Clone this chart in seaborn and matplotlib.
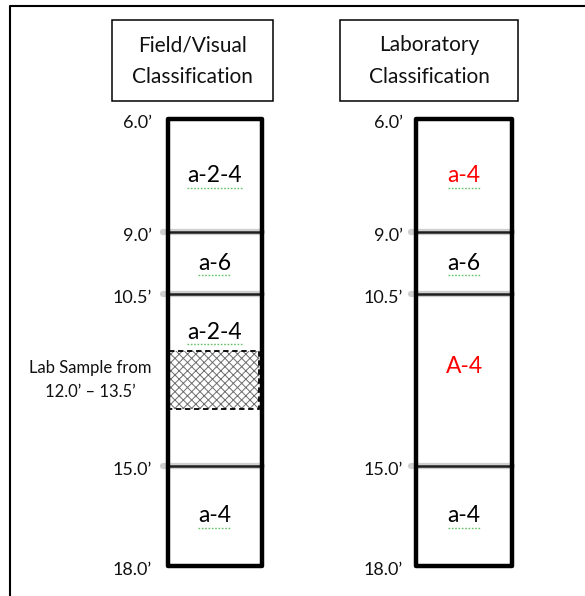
import numpy as np
import matplotlib
matplotlib.use("Agg")
import matplotlib.pyplot as plt
from matplotlib.patches import Rectangle
from matplotlib.transforms import offset_copy
import seaborn as sns

# depth boundaries of the boring log (feet)
depths = [6.0, 9.0, 10.5, 15.0, 18.0]
depth_labels = ["6.0\u2019", "9.0\u2019", "10.5\u2019", "15.0\u2019", "18.0\u2019"]

# layer classifications and depths where the label sits
field_labels = ["a-2-4", "a-6", "a-2-4", "a-4"]
field_label_depths = [7.5, 9.75, 11.5, 16.5]
field_colors = ["black", "black", "black", "black"]

lab_labels = ["a-4", "a-6", "A-4", "a-4"]
lab_label_depths = [7.5, 9.75, 12.4, 16.5]
lab_colors = ["red", "black", "red", "black"]
lab_underlined = [True, True, False, True]

sample_top, sample_bottom = 12.0, 13.5
sample_text = "Lab Sample from\n12.0\u2019 \u2013 13.5\u2019"

titles = ["Field/Visual\nClassification", "Laboratory\nClassification"]

# the sketch is not drawn to scale: rows where each boundary is drawn (px from top)
drawn_rows = [119, 232, 294, 466, 566]

W, H = 585, 596
sns.set_theme(style="white")
plt.rcParams["font.family"] = ["Lato", "DejaVu Sans"]
plt.rcParams["hatch.linewidth"] = 0.7

fig = plt.figure(figsize=(W / 100, H / 100), dpi=100)

# overlay canvas in pixel units for frame and title boxes
canvas = fig.add_axes([0, 0, 1, 1])
canvas.set_xlim(0, W)
canvas.set_ylim(H, 0)
canvas.axis("off")
canvas.plot([10, 10, W], [H, 6, 6], color="black", lw=1.5, solid_capstyle="butt")
title_boxes = [(112, 273), (340, 518)]
for (x0, x1), t in zip(title_boxes, titles):
    canvas.add_patch(Rectangle((x0, 20), x1 - x0, 81, fill=False, ec="black", lw=1.1))
    canvas.text((x0 + x1) / 2, 61, t, ha="center", va="center", fontsize=15,
                linespacing=1.75, color="#111111")

# depth axes: boundaries placed through a piecewise scale
def fwd(d):
    return np.interp(d, depths, drawn_rows)

def inv(p):
    return np.interp(p, drawn_rows, depths)

top = drawn_rows[0] / H
bot = drawn_rows[-1] / H
ax = fig.add_axes([0, 1 - bot, 1, bot - top])
ax.set_yscale("function", functions=(fwd, inv))
ax.set_xlim(0, W)
ax.set_ylim(depths[-1], depths[0])
ax.axis("off")

under = offset_copy(ax.transData, fig=fig, x=0, y=-12, units="dots")

columns = [(167.5, 261.5, field_labels, field_label_depths, field_colors,
            [True] * 4, 152),
           (416, 512, lab_labels, lab_label_depths, lab_colors, lab_underlined, 403)]

for x0, x1, labels, ldepths, colors, unders, lx in columns:
    ax.add_patch(Rectangle((x0, depths[0]), x1 - x0, depths[-1] - depths[0],
                           fc="white", ec="none", zorder=1))
    # interior boundaries with soft shadow
    for d in depths[1:-1]:
        ax.plot([x0 - 5, x1], [d, d], color="#c4c4c4", lw=4.5, zorder=2,
                solid_capstyle="round", alpha=0.8)
        ax.plot([x0, x1], [d, d], color="#1e1e1e", lw=1.8, zorder=3)
    ax.add_patch(Rectangle((x0, depths[0]), x1 - x0, depths[-1] - depths[0],
                           fill=False, ec="black", lw=3.2, zorder=5,
                           joinstyle="round", clip_on=False))
    for d, t in zip(depths, depth_labels):
        ax.annotate(t, (lx, d), xytext=(0, -3), textcoords="offset points",
                    ha="right", va="center", fontsize=13, color="#111111",
                    annotation_clip=False)
    xc = (x0 + x1) / 2
    for d, t, c, u in zip(ldepths, labels, colors, unders):
        ax.text(xc, d, t, ha="center", va="center", fontsize=16.5, color=c, zorder=6)
        if u:
            wid = 11.5 * len(t) - 2
            ax.plot([xc - wid / 2, xc + wid / 2], [d, d], transform=under,
                    color="#66c266", lw=1.0, ls=(0, (1.2, 1.2)), zorder=6)

# lab sample interval in the field column
fx0, fx1 = columns[0][0], columns[0][1]
ax.add_patch(Rectangle((fx0 + 1, sample_top), fx1 - fx0 - 4, sample_bottom - sample_top,
                       fc="white", ec="#6e6e6e", lw=0, hatch="xxxx", zorder=4))
ax.add_patch(Rectangle((fx0 + 1, sample_top), fx1 - fx0 - 4, sample_bottom - sample_top,
                       fill=False, ec="black", lw=1.3, ls=(0, (3, 2)), zorder=4))
ax.text(90, (sample_top + sample_bottom) / 2, sample_text, ha="center", va="center",
        fontsize=12, linespacing=1.6, color="#111111")

fig.savefig("out.png", dpi=100)
